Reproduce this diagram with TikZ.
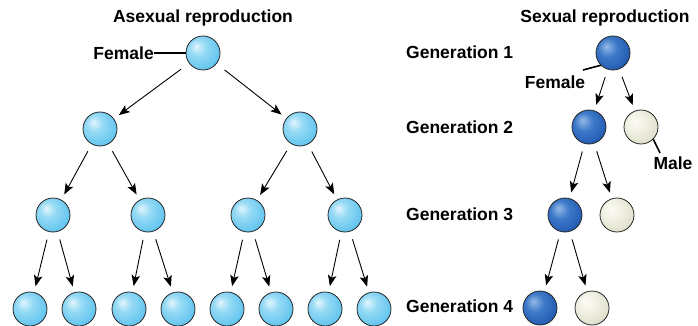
\documentclass[tikz,border=0pt]{standalone}
\usepackage{fontspec}
\setmainfont{Liberation Sans}
\usetikzlibrary{arrows.meta}
\definecolor{cyhi}{RGB}{225,245,252}
\definecolor{cymid}{RGB}{150,218,245}
\definecolor{cyedge}{RGB}{70,185,235}
\definecolor{blhi}{RGB}{150,185,230}
\definecolor{blmid}{RGB}{60,120,200}
\definecolor{bledge}{RGB}{20,75,165}
\definecolor{whhi}{RGB}{252,252,245}
\definecolor{whmid}{RGB}{240,240,228}
\definecolor{whedge}{RGB}{215,215,190}
\pgfdeclareradialshading{cyanball}{\pgfpoint{-10bp}{10bp}}{color(0bp)=(cyhi); color(12bp)=(cymid); color(40bp)=(cyedge); color(60bp)=(cyedge)}
\pgfdeclareradialshading{blueball}{\pgfpoint{-10bp}{10bp}}{color(0bp)=(blhi); color(14bp)=(blmid); color(40bp)=(bledge); color(60bp)=(bledge)}
\pgfdeclareradialshading{whiteball}{\pgfpoint{-10bp}{10bp}}{color(0bp)=(whhi); color(14bp)=(whmid); color(40bp)=(whedge); color(60bp)=(whedge)}
\begin{document}
\begin{tikzpicture}[x=1pt,y=-1pt,
  ball/.style={circle, minimum size=34pt, inner sep=0pt, draw=black!85, line width=0.8pt},
  cyball/.style={ball, shading=cyanball},
  bball/.style={ball, shading=blueball},
  wball/.style={ball, shading=whiteball},
  lbl/.style={font=\fontsize{17.5}{20}\selectfont\bfseries, inner sep=0pt},
  arr/.style={-{Stealth[length=11pt,width=8.5pt,inset=2.5pt]}, line width=0.9pt, shorten <=8pt, shorten >=6pt},
  tick/.style={line width=1.6pt}]
\useasboundingbox (0,0) rectangle (698,326);
% titles
\node[lbl] (t1) at (203,18) {Asexual reproduction};
\node[lbl] (t2) at (605,18) {Sexual reproduction};
% asexual tree
\node[cyball] (a) at (203,53) {};
\node[cyball] (b1) at (100,129) {};
\node[cyball] (b2) at (300,129) {};
\node[cyball] (c1) at (53,215) {};
\node[cyball] (c2) at (148,215) {};
\node[cyball] (c3) at (248,215) {};
\node[cyball] (c4) at (345,215) {};
\node[cyball] (d1) at (30,309) {};
\node[cyball] (d2) at (79,309) {};
\node[cyball] (d3) at (129,309) {};
\node[cyball] (d4) at (178,309) {};
\node[cyball] (d5) at (227,309) {};
\node[cyball] (d6) at (276,309) {};
\node[cyball] (d7) at (325,309) {};
\node[cyball] (d8) at (374,309) {};
\draw[arr, shorten <=10pt] (a) -- (b1);
\draw[arr, shorten <=10pt] (a) -- (b2);
\draw[arr] (b1) -- (c1);
\draw[arr] (b1) -- (c2);
\draw[arr] (b2) -- (c3);
\draw[arr] (b2) -- (c4);
\draw[arr] (c1) -- (d1);
\draw[arr] (c1) -- (d2);
\draw[arr] (c2) -- (d3);
\draw[arr] (c2) -- (d4);
\draw[arr] (c3) -- (d5);
\draw[arr] (c3) -- (d6);
\draw[arr] (c4) -- (d7);
\draw[arr] (c4) -- (d8);
\node[lbl, anchor=east] (fa) at (154,53) {Female};
\draw[tick] (fa.east) -- (a.west);
% sexual
\node[lbl, anchor=west] (g1) at (406,52) {Generation 1};
\node[lbl, anchor=west] (g2) at (406,127) {Generation 2};
\node[lbl, anchor=west] (g3) at (406,214) {Generation 3};
\node[lbl, anchor=west] (g4) at (406,306) {Generation 4};
\node[bball] (s1) at (613,53) {};
\node[bball] (s2) at (589,127) {};
\node[wball] (m2) at (641,127) {};
\node[bball] (s3) at (565,215) {};
\node[wball] (m3) at (617,215) {};
\node[bball] (s4) at (540,308) {};
\node[wball] (m4) at (592,308) {};
\draw[arr] (s1) -- (s2);
\draw[arr] (s1) -- (m2);
\draw[arr] (s2) -- (s3);
\draw[arr] (s2) -- (m3);
\draw[arr] (s3) -- (s4);
\draw[arr] (s3) -- (m4);
\node[lbl] (fs) at (555,82) {Female};
\coordinate (fsend) at (583,70);
\draw[tick] (fsend) -- (s1.south west);
\node[lbl] (ml) at (673,163) {Male};
\coordinate (mlend) at (660,153);
\draw[tick] (mlend) -- (m2.south east);
\end{tikzpicture}
\end{document}
